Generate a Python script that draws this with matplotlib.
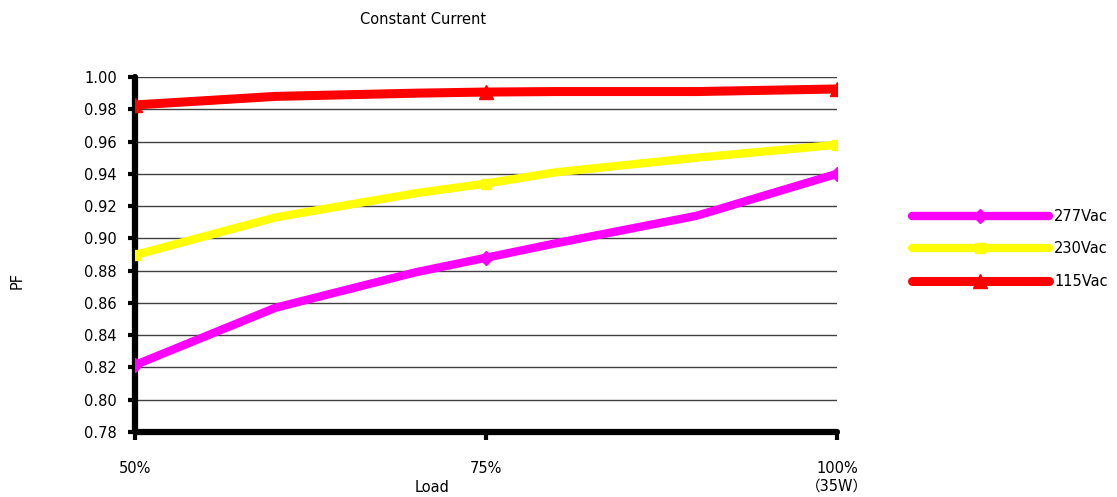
import matplotlib
matplotlib.use("Agg")
import matplotlib.pyplot as plt
import numpy as np

plt.rcParams['font.family'] = ['DejaVu Sans', 'Noto Sans CJK SC']

# --- data
load = [50, 60, 70, 75, 80, 90, 100]
pf_277 = [0.8215, 0.857, 0.879, 0.888, 0.897, 0.914, 0.940]
pf_230 = [0.8897, 0.913, 0.928, 0.934, 0.941, 0.950, 0.958]
pf_115 = [0.9827, 0.988, 0.990, 0.9907, 0.991, 0.991, 0.9926]
xtick_vals = [50, 75, 100]
xtick_labels = ["50%", "75%", "100%\n（35W）"]
ytick_vals = np.round(np.arange(0.78, 1.001, 0.02), 2)

fs = 10.5
fig = plt.figure(figsize=(11.17, 4.97), dpi=100)
ax = fig.add_axes([0.1209, 0.1308, 0.6284, 0.7142])

for y in ytick_vals[1:]:
    ax.axhline(y, color="#404040", lw=1.0, zorder=1)

mk = [0, 3, 6]
ax.plot(load, pf_277, color="#ff00ff", lw=6, marker="D", ms=7, markevery=mk,
        solid_capstyle="round", label="277Vac", zorder=3)
ax.plot(load, pf_230, color="#ffff00", lw=6, marker="s", ms=7, markevery=mk,
        solid_capstyle="round", label="230Vac", zorder=3)
ax.plot(load, pf_115, color="#ff0000", lw=6.5, marker="^", ms=10, markevery=mk,
        solid_capstyle="round", label="115Vac", zorder=3)

ax.set_xlim(50, 100)
ax.set_ylim(0.78, 1.00)
ax.set_yticks(ytick_vals)
ax.set_yticklabels(["%.2f" % v for v in ytick_vals], fontsize=fs)
ax.set_xticks(xtick_vals)
ax.set_xticklabels(xtick_labels, fontsize=fs)

for s in ["top", "right"]:
    ax.spines[s].set_visible(False)
for s in ["left", "bottom"]:
    ax.spines[s].set_linewidth(4.5)
    ax.spines[s].set_capstyle("round")
ax.tick_params(axis="y", length=5, width=3, direction="out", pad=8)
ax.tick_params(axis="x", length=6, width=3, direction="out", pad=15)

ax.set_xlabel("Load", fontsize=fs)
ax.xaxis.set_label_coords(0.423, -0.135)
ax.set_ylabel("PF", fontsize=fs)
ax.yaxis.set_label_coords(-0.158, 0.428)
fig.text(0.379, 0.96, "Constant Current", fontsize=fs, ha="center", va="center")

fig.legend(loc="center left", bbox_to_anchor=(0.8045, 0.499), frameon=False,
           fontsize=fs, handlelength=9.4, handletextpad=0.35, labelspacing=1.2)

fig.savefig("out.png", dpi=100)
